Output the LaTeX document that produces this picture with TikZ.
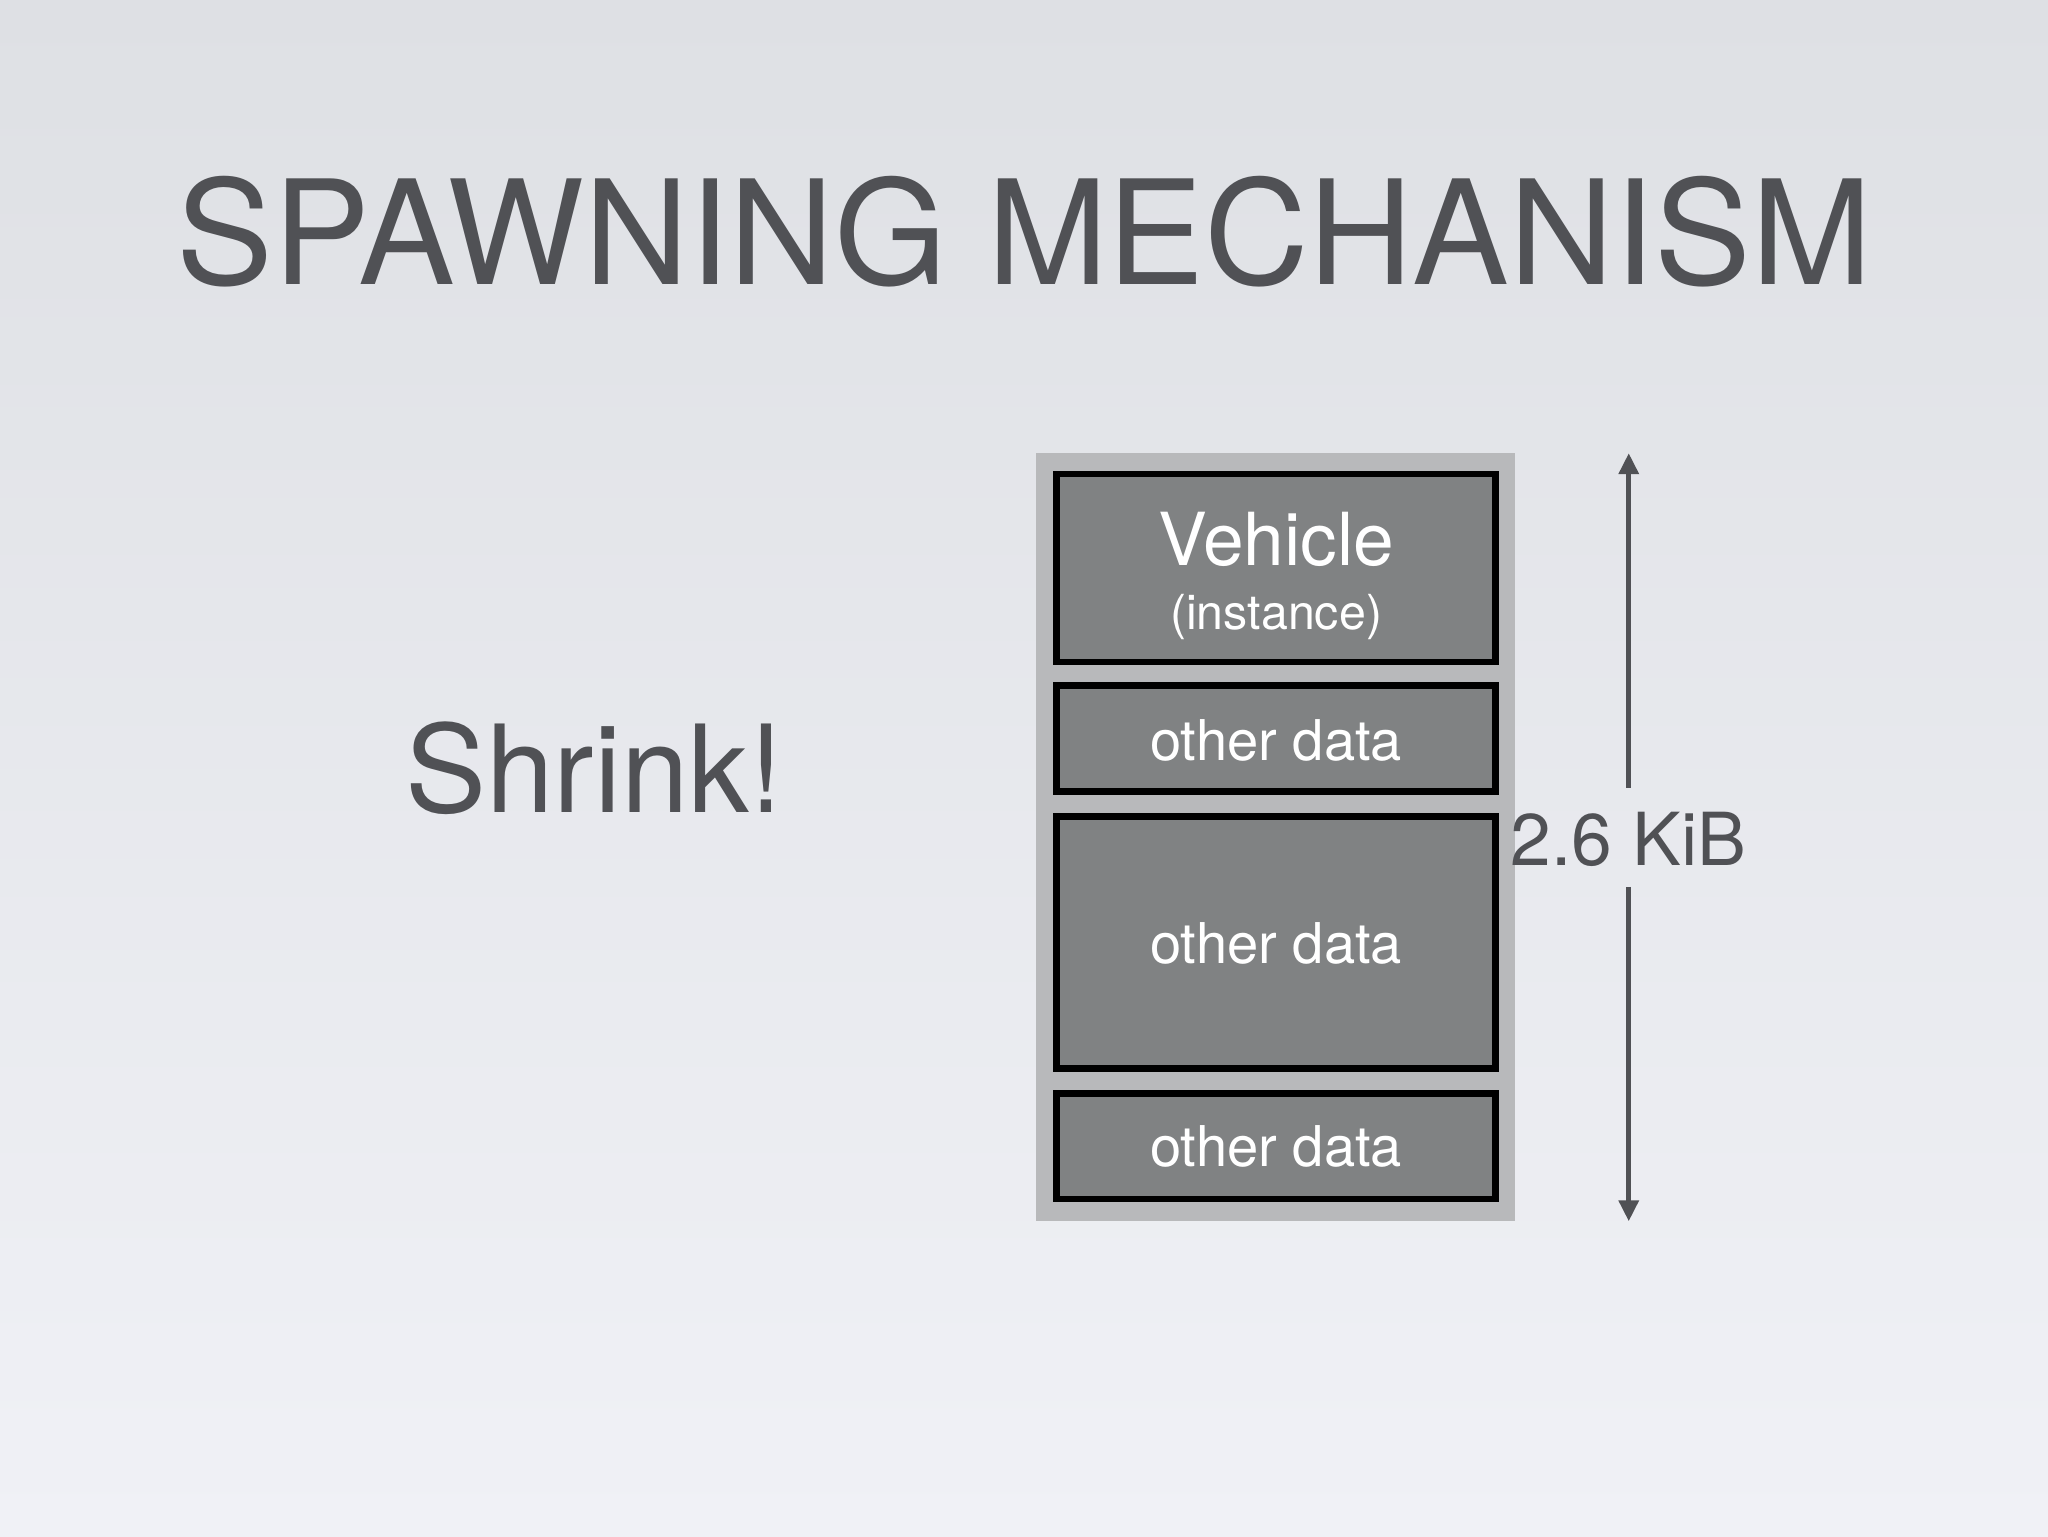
\documentclass[tikz,border=0pt]{standalone}
\usepackage{fontspec}
\setmainfont{TeX Gyre Heros}
\usetikzlibrary{arrows.meta}
\definecolor{txt}{HTML}{505155}
\definecolor{outer}{HTML}{B8B9BB}
\definecolor{cell}{HTML}{808283}
\tikzset{
  cellbox/.style={draw=black,line width=5pt,fill=cell},
  celltext/.style={text=white,font=\fontsize{43}{47}\selectfont},
  dimline/.style={draw=txt,line width=3.5pt,-{Triangle[length=16pt,width=15pt]}}
}
\begin{document}
\begin{tikzpicture}[x=1pt,y=-1pt]
\shade[top color={rgb,255:red,222;green,224;blue,228},bottom color={rgb,255:red,240;green,241;blue,246}] (0,0) rectangle (1568,1176);
\useasboundingbox (0,0) rectangle (1568,1176);
\node[text=txt,font=\fontsize{111}{115}\selectfont,anchor=base] (title) at (784,218) {SPAWNING MECHANISM};
\node[text=txt,font=\fontsize{93}{97}\selectfont,anchor=base] (shrink) at (455,622) {Shrink!};
\fill[outer] (793,347) rectangle (1160,935);
\draw[cellbox] (809,363) rectangle (1145,507);
\draw[cellbox] (809,525) rectangle (1145,606);
\draw[cellbox] (809,625) rectangle (1145,818);
\draw[cellbox] (809,837) rectangle (1145,918);
\node[text=white,font=\fontsize{56}{60}\selectfont,anchor=base] (veh) at (977,433) {Vehicle};
\node[text=white,font=\fontsize{37}{40}\selectfont,anchor=base] (inst) at (977,482) {(instance)};
\node[celltext,anchor=base] (d1) at (977,582) {other data};
\node[celltext,anchor=base] (d2) at (977,738) {other data};
\node[celltext,anchor=base] (d3) at (977,893) {other data};
\node[text=txt,font=\fontsize{56}{60}\selectfont] (kib) at (1247,643) {2.6 KiB};
\coordinate (top) at (1247,347);
\coordinate (bot) at (1247,935);
\draw[dimline] (1247,603) -- (top);
\draw[dimline] (1247,679) -- (bot);
\end{tikzpicture}
\end{document}
